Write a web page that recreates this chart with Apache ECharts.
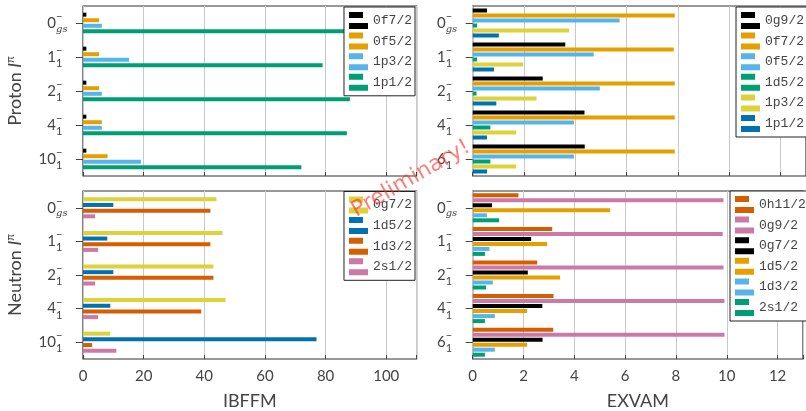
<!DOCTYPE html>
<html>
<head>
<meta charset="utf-8">
<script src="https://cdn.jsdelivr.net/npm/echarts@6/dist/echarts.min.js"></script>
<style>html,body{margin:0;padding:0;background:#fff;}#c{width:806px;height:411px;}</style>
</head>
<body>
<div id="c"></div>
<script>
// ---- categories ----
const catsIBFFM = ['0_gs', '1_1', '2_1', '4_1', '10_1'];
const catsEXVAM = ['0_gs', '1_1', '2_1', '4_1', '6_1'];
const ticksIBFFM = [0, 20, 40, 60, 80, 100];
const ticksEXVAM = [0, 2, 4, 6, 8, 10, 12];

// ---- Proton, IBFFM (%) ----
const pIbffmNames = ['0f7/2', '0f5/2', '1p3/2', '1p1/2'];
const pIbffm_0f72 = [1.1, 1.1, 1.1, 1.1, 1.1];
const pIbffm_0f52 = [5.3, 5.3, 5.3, 6.2, 8.1];
const pIbffm_1p32 = [6.2, 15.2, 6.2, 6.2, 19.1];
const pIbffm_1p12 = [86.5, 79, 88, 87, 72];

// ---- Neutron, IBFFM (%) ----
const nIbffmNames = ['0g7/2', '1d5/2', '1d3/2', '2s1/2'];
const nIbffm_0g72 = [44, 46, 43, 47, 9];
const nIbffm_1d52 = [10, 8, 10, 9, 77];
const nIbffm_1d32 = [42, 42, 43, 39, 3];
const nIbffm_2s12 = [4, 5, 4, 5, 11];

// ---- Proton, EXVAM ----
const pExvamNames = ['0g9/2', '0f7/2', '0f5/2', '1d5/2', '1p3/2', '1p1/2'];
const pExvam_0g92 = [0.56, 3.61, 2.73, 4.36, 4.37];
const pExvam_0f72 = [7.88, 7.84, 7.88, 7.88, 7.88];
const pExvam_0f52 = [5.73, 4.72, 4.96, 3.95, 3.95];
const pExvam_1d52 = [0.17, 0.17, 0.15, 0.69, 0.69];
const pExvam_1p32 = [3.76, 1.97, 2.49, 1.70, 1.70];
const pExvam_1p12 = [1.02, 0.83, 0.92, 0.56, 0.56];

// ---- Neutron, EXVAM ----
const nExvamNames = ['0h11/2', '0g9/2', '0g7/2', '1d5/2', '1d3/2', '2s1/2'];
const nExvam_0h112 = [1.80, 3.13, 2.54, 3.18, 3.17];
const nExvam_0g92 = [9.87, 9.84, 9.87, 9.91, 9.91];
const nExvam_0g72 = [0.76, 2.30, 2.17, 2.74, 2.75];
const nExvam_1d52 = [5.41, 2.93, 3.44, 2.14, 2.14];
const nExvam_1d32 = [0.56, 0.66, 0.79, 0.87, 0.87];
const nExvam_2s12 = [1.04, 0.48, 0.53, 0.48, 0.48];

// ---- colours ----
const C = {
  black: '#000000', orange: '#E69F00', sky: '#56B4E9', green: '#009E73',
  yellow: '#DDD23A', blue: '#0072B2', verm: '#D55E00', pink: '#CC79A7'
};

const TXT = '#444';
const FONT = 'Lato';

const panels = [
  { grid: 0, names: pIbffmNames, data: [pIbffm_0f72, pIbffm_0f52, pIbffm_1p32, pIbffm_1p12],
    colors: [C.black, C.orange, C.sky, C.green], tag: 'pi', gap: '39%' },
  { grid: 1, names: pExvamNames, data: [pExvam_0g92, pExvam_0f72, pExvam_0f52, pExvam_1d52, pExvam_1p32, pExvam_1p12],
    colors: [C.black, C.orange, C.sky, C.green, C.yellow, C.blue], tag: 'pe', gap: '25%' },
  { grid: 2, names: nIbffmNames, data: [nIbffm_0g72, nIbffm_1d52, nIbffm_1d32, nIbffm_2s12],
    colors: [C.yellow, C.blue, C.verm, C.pink], tag: 'ni', gap: '42%' },
  { grid: 3, names: nExvamNames, data: [nExvam_0h112, nExvam_0g92, nExvam_0g72, nExvam_1d52, nExvam_1d32, nExvam_2s12],
    colors: [C.verm, C.pink, C.black, C.orange, C.sky, C.green], tag: 'ne', gap: '25%' }
];

const grids = [
  { left: 83, top: 6, width: 333.6, height: 170 },
  { left: 472.7, top: 6, width: 333.7, height: 170 },
  { left: 83, top: 191, width: 333.6, height: 170 },
  { left: 472.7, top: 191, width: 333.7, height: 170 }
].map(g => Object.assign(g, { show: true, borderColor: '#333', borderWidth: 1.2, backgroundColor: 'transparent' }));

function catLabel(v) {
  const p = v.split('_');
  const sub = p[1] === 'gs' ? '{subi|gs}' : '{sub|' + p[1] + '}';
  return '{b|' + p[0] + '}{sup|\u2212}' + sub;
}
const labelRich = {
  b: { fontFamily: FONT, fontSize: 15, lineHeight: 14, align: 'left', color: TXT },
  sup: { fontFamily: FONT, fontSize: 11, lineHeight: 10, padding: [0, 0, 13, 0], align: 'left', width: 0, color: TXT },
  sub: { fontFamily: FONT, fontSize: 11, lineHeight: 12, padding: [13, 0, 0, 0], align: 'left', width: 11, color: TXT },
  subi: { fontFamily: 'DejaVu Serif', fontStyle: 'italic', fontSize: 10, lineHeight: 12, padding: [12, 0, 0, 0], align: 'left', width: 11, color: TXT }
};

const xAxes = [0, 1, 2, 3].map(i => {
  const ib = (i % 2 === 0);
  const bottom = i >= 2;
  const ticks = ib ? ticksIBFFM : ticksEXVAM;
  return {
    type: 'value', gridIndex: i, min: 0, max: ib ? 110 : 13, interval: ticks[1] - ticks[0],
    axisLine: { show: false },
    axisTick: { show: true, inside: true, length: 4, lineStyle: { color: '#444' } },
    splitLine: { show: true, lineStyle: { color: '#c8c8c8', width: 1 } },
    axisLabel: {
      show: bottom, margin: 10, fontFamily: FONT, fontSize: 15, color: TXT,
      formatter: v => (ticks.indexOf(v) >= 0 ? String(v) : '')
    },
    name: bottom ? (ib ? 'IBFFM' : 'EXVAM') : '',
    nameLocation: 'middle', nameGap: 33,
    nameTextStyle: { fontFamily: FONT, fontSize: 18, color: TXT }
  };
});

const yAxes = [0, 1, 2, 3].map(i => {
  const ib = (i % 2 === 0);
  const top = i < 2;
  return {
    type: 'category', gridIndex: i, inverse: true, data: ib ? catsIBFFM : catsEXVAM,
    axisLine: { show: false },
    axisTick: { show: true, alignWithLabel: true, length: 7, lineStyle: { color: '#444' } },
    splitLine: { show: false },
    axisLabel: { margin: 16, formatter: catLabel, rich: labelRich },
    name: ib ? (top ? 'Proton {it|I}{sp|\u03c0}' : 'Neutron {it|I}{sp|\u03c0}') : '',
    nameLocation: 'middle', nameGap: 59, nameRotate: 90,
    nameTextStyle: {
      fontFamily: FONT, fontSize: 18, color: TXT,
      rich: {
        it: { fontFamily: FONT, fontStyle: 'italic', fontSize: 18, color: TXT },
        sp: { fontFamily: FONT, fontSize: 11, lineHeight: 10, padding: [0, 0, 10, 0], color: TXT }
      }
    }
  };
});

const series = [];
const legends = [];
const legendPos = [
  { right: 391, top: 7 },
  { left: 736, top: 7 },
  { right: 391, top: 191.5 },
  { left: 730, top: 191 }
];
panels.forEach(p => {
  const legendData = [];
  p.names.forEach((nm, k) => {
    const full = nm + '|' + p.tag;
    legendData.push(full);
    series.push({
      type: 'bar', name: full, xAxisIndex: p.grid, yAxisIndex: p.grid,
      data: p.data[k], barWidth: 4, barGap: p.gap,
      itemStyle: { color: p.colors[k] }, emphasis: { disabled: true }
    });
  });
  legends.push(Object.assign({
    orient: 'vertical', data: legendData, selectedMode: false,
    formatter: n => n.split('|')[0],
    icon: 'path://M0,0h14v6h-14zM0,11h19v6h-19z',
    itemWidth: 19, itemHeight: 17, itemGap: 3.6, itemTextGap: 4,
    padding: [5, 3, 5, 5],
    backgroundColor: '#fff', borderColor: '#222', borderWidth: 1,
    textStyle: { fontFamily: 'Liberation Mono', fontSize: 13, color: TXT }
  }, legendPos[p.grid]));
});

const chart = echarts.init(document.getElementById('c'), null, { renderer: 'canvas' });
chart.setOption({
  animation: false,
  backgroundColor: '#fff',
  grid: grids,
  xAxis: xAxes,
  yAxis: yAxes,
  legend: legends,
  series: series,
  graphic: [{
    type: 'text', x: 411, y: 179, rotation: 30 * Math.PI / 180, z: 100,
    style: {
      text: 'Preliminary!', fontSize: 22, fontFamily: 'DejaVu Sans', fill: 'rgba(255,40,40,0.6)',
      align: 'center', verticalAlign: 'middle', textAlign: 'center', textVerticalAlign: 'middle'
    }
  }]
});
</script>
</body>
</html>
